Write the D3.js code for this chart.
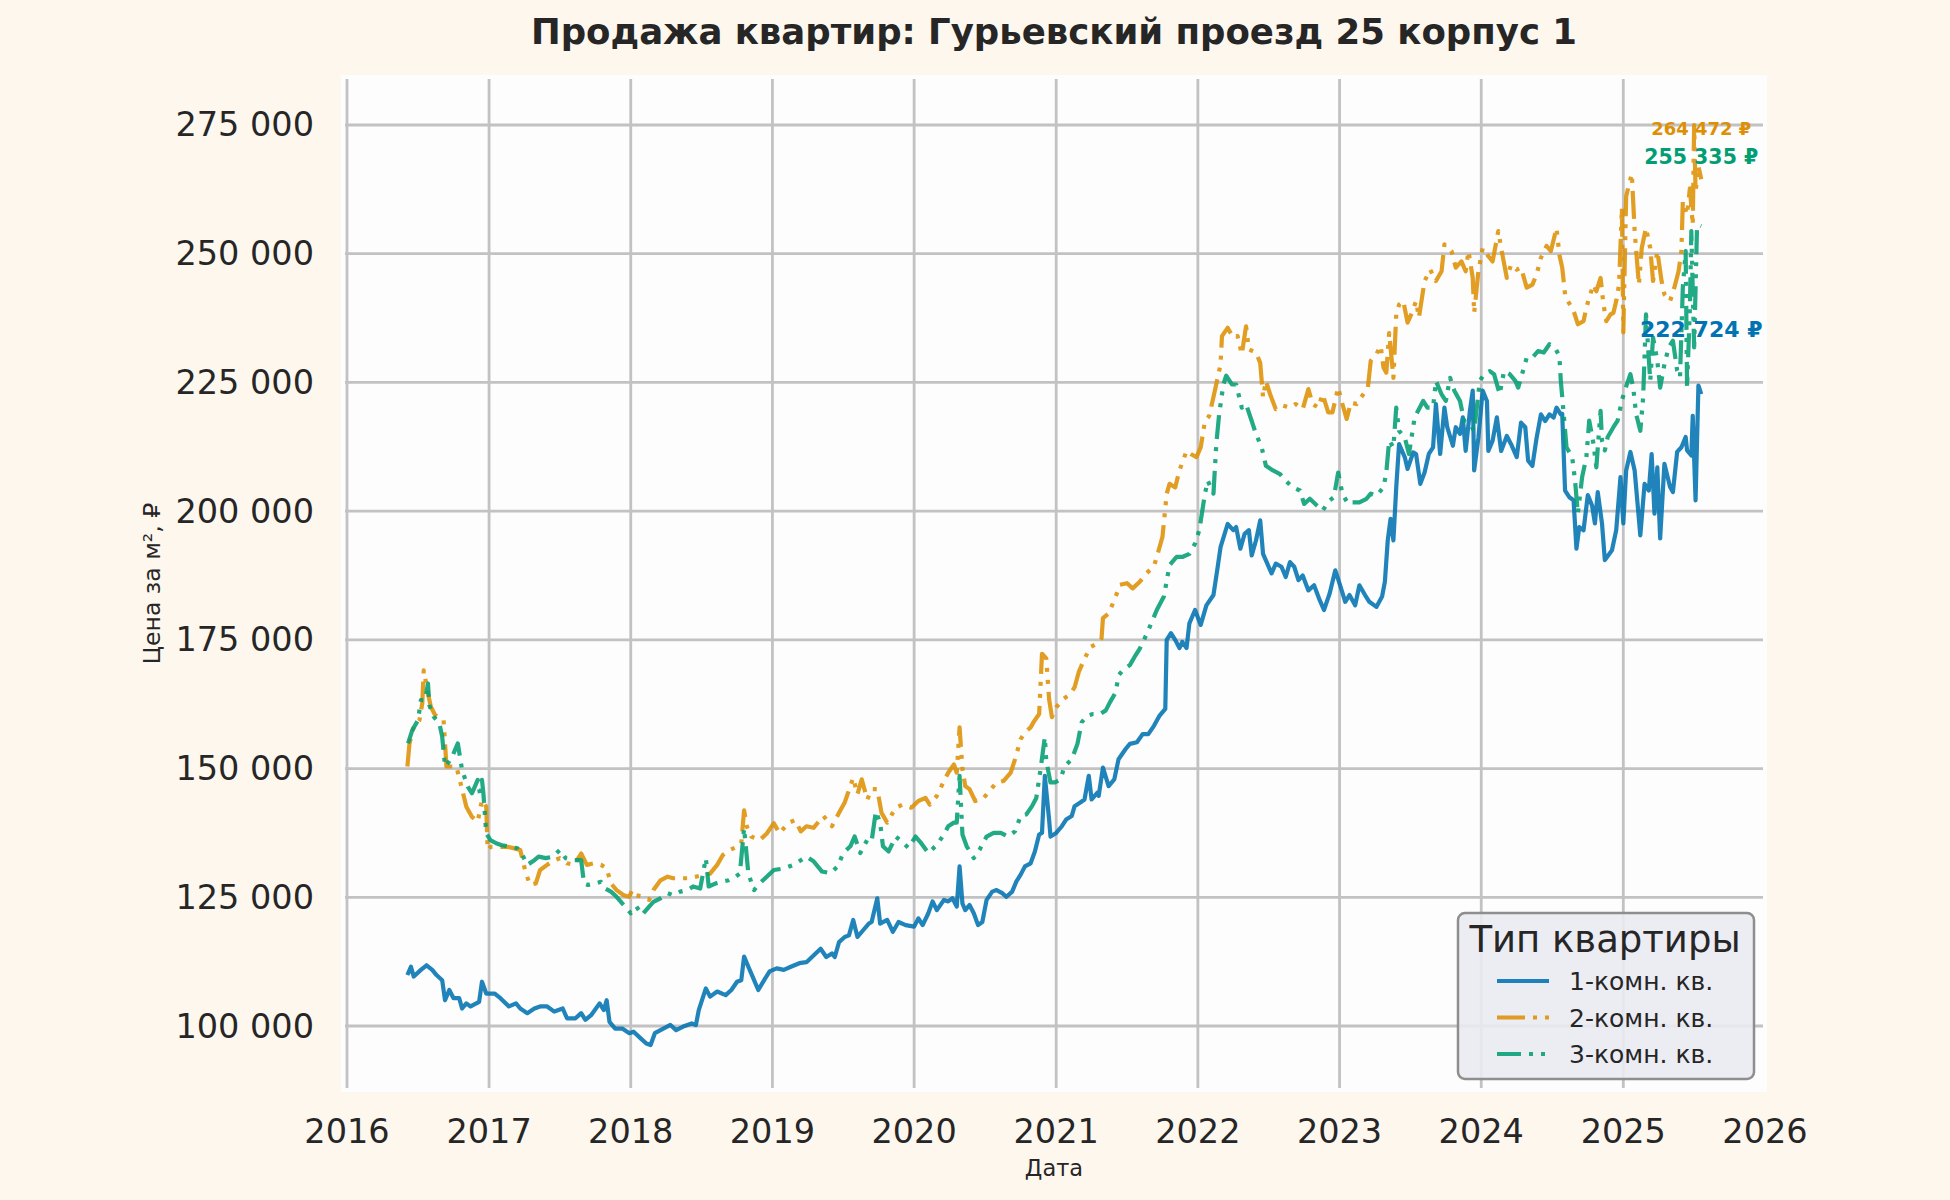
<!DOCTYPE html>
<html>
<head>
<meta charset="utf-8">
<script src="https://cdn.jsdelivr.net/npm/d3@7"></script>
<style>
  html, body { margin: 0; padding: 0; background: #fef7ee; }
  text { font-family: "DejaVu Sans", sans-serif; }
</style>
</head>
<body>
<div id="chart"></div>
<script>
// series: [decimal year, price in thousand rub per m2]
const room1 = [
  [2016.425,109.9],[2016.45,111.5],[2016.47,109.6],[2016.52,110.9],[2016.56,111.8],[2016.60,110.9],[2016.63,109.9],
  [2016.67,108.9],[2016.69,105.0],[2016.72,107.0],[2016.75,105.4],[2016.79,105.4],[2016.81,103.4],[2016.84,104.4],
  [2016.87,103.8],[2016.93,104.7],[2016.95,108.6],[2016.98,106.3],[2017.04,106.3],[2017.08,105.4],[2017.14,103.8],
  [2017.19,104.4],[2017.22,103.4],[2017.27,102.5],[2017.32,103.4],[2017.36,103.8],[2017.41,103.8],[2017.46,102.8],
  [2017.52,103.4],[2017.55,101.5],[2017.61,101.5],[2017.65,102.5],[2017.68,101.2],[2017.72,102.1],[2017.78,104.4],
  [2017.81,103.1],[2017.83,105.0],[2017.85,100.8],[2017.89,99.5],[2017.94,99.5],[2017.99,98.6],[2018.02,98.9],
  [2018.07,97.6],[2018.11,96.6],[2018.14,96.3],[2018.17,98.6],[2018.23,99.5],[2018.28,100.2],[2018.32,99.2],
  [2018.37,99.9],[2018.43,100.5],[2018.46,100.2],[2018.48,103.1],[2018.53,107.3],[2018.56,105.7],[2018.61,106.7],
  [2018.67,106.0],[2018.71,107.0],[2018.75,108.6],[2018.78,108.9],[2018.80,113.5],[2018.83,111.5],[2018.86,109.6],
  [2018.90,107.0],[2018.95,109.3],[2018.98,110.6],[2019.03,111.2],[2019.08,110.9],[2019.13,111.5],[2019.19,112.2],
  [2019.24,112.4],[2019.29,113.7],[2019.34,115.0],[2019.38,113.4],[2019.42,114.1],[2019.44,113.4],[2019.47,116.3],
  [2019.51,117.3],[2019.54,117.6],[2019.57,120.6],[2019.60,117.3],[2019.64,118.6],[2019.68,119.9],[2019.70,120.2],
  [2019.74,124.8],[2019.76,119.9],[2019.81,120.6],[2019.85,118.3],[2019.89,120.2],[2019.94,119.6],[2020.00,119.3],
  [2020.03,120.9],[2020.06,119.6],[2020.10,121.9],[2020.13,124.2],[2020.16,122.5],[2020.21,124.5],[2020.24,124.2],
  [2020.27,124.8],[2020.30,123.2],[2020.32,131.0],[2020.34,123.8],[2020.36,122.5],[2020.39,123.5],[2020.42,121.9],
  [2020.45,119.6],[2020.48,120.2],[2020.51,124.5],[2020.55,126.1],[2020.58,126.4],[2020.62,125.8],[2020.65,125.1],
  [2020.69,126.1],[2020.72,128.1],[2020.75,129.4],[2020.78,131.0],[2020.82,131.6],[2020.85,133.9],[2020.88,137.2],
  [2020.90,137.5],[2020.92,148.6],[2020.95,140.1],[2020.96,136.8],[2021.00,137.5],[2021.04,138.8],[2021.07,140.1],
  [2021.11,140.8],[2021.13,142.7],[2021.17,143.4],[2021.20,144.0],[2021.23,148.6],[2021.25,144.0],[2021.29,145.3],
  [2021.30,144.7],[2021.33,150.2],[2021.37,146.6],[2021.41,147.9],[2021.44,151.8],[2021.49,153.8],[2021.52,154.8],
  [2021.57,155.1],[2021.61,156.7],[2021.65,156.7],[2021.69,158.3],[2021.73,160.3],[2021.77,161.6],[2021.78,175.0],
  [2021.81,176.3],[2021.84,175.0],[2021.87,173.4],[2021.89,174.6],[2021.92,173.4],[2021.94,178.2],[2021.98,180.8],
  [2022.02,177.9],[2022.06,181.7],[2022.11,183.7],[2022.14,189.2],[2022.16,193.0],[2022.21,197.5],[2022.25,196.3],
  [2022.27,196.9],[2022.30,192.7],[2022.33,195.6],[2022.36,196.3],[2022.38,191.4],[2022.41,194.3],[2022.44,198.2],
  [2022.46,191.7],[2022.49,189.8],[2022.52,187.9],[2022.55,189.8],[2022.59,189.2],[2022.62,187.2],[2022.65,190.1],
  [2022.68,189.2],[2022.71,186.6],[2022.74,187.5],[2022.78,184.6],[2022.82,185.6],[2022.86,182.7],[2022.89,180.8],
  [2022.93,184.0],[2022.97,188.5],[2023.00,185.9],[2023.04,182.4],[2023.07,183.7],[2023.11,181.7],[2023.14,185.6],
  [2023.18,183.7],[2023.21,182.4],[2023.26,181.4],[2023.30,183.4],[2023.32,186.3],[2023.34,194.3],[2023.36,198.5],
  [2023.38,194.3],[2023.40,204.6],[2023.42,213.0],[2023.46,210.5],[2023.48,208.2],[2023.52,211.4],[2023.54,211.1],
  [2023.57,205.3],[2023.60,207.5],[2023.63,211.1],[2023.66,212.4],[2023.68,220.8],[2023.71,211.1],[2023.74,220.1],
  [2023.76,216.3],[2023.80,212.7],[2023.82,216.3],[2023.85,215.0],[2023.87,218.2],[2023.89,211.7],[2023.92,219.5],
  [2023.94,223.4],[2023.95,207.9],[2023.98,214.3],[2024.01,223.4],[2024.04,221.4],[2024.05,211.7],[2024.08,213.7],
  [2024.11,218.2],[2024.14,211.7],[2024.18,214.6],[2024.21,213.0],[2024.25,210.5],[2024.28,217.2],[2024.31,216.3],
  [2024.33,209.8],[2024.36,208.8],[2024.39,214.3],[2024.42,218.8],[2024.45,217.5],[2024.48,218.8],[2024.51,218.2],
  [2024.53,220.1],[2024.56,218.8],[2024.57,218.9],[2024.59,204.0],[2024.62,202.7],[2024.65,202.1],[2024.67,192.7],
  [2024.69,196.9],[2024.72,196.3],[2024.75,203.1],[2024.78,201.1],[2024.80,197.6],[2024.82,203.7],[2024.85,197.6],
  [2024.87,190.5],[2024.92,192.4],[2024.95,196.3],[2024.98,206.6],[2025.00,197.6],[2025.02,207.9],[2025.05,211.5],
  [2025.08,207.9],[2025.12,195.3],[2025.15,205.3],[2025.18,204.0],[2025.20,211.1],[2025.22,199.5],[2025.24,208.5],
  [2025.26,194.7],[2025.29,209.2],[2025.33,204.7],[2025.35,203.7],[2025.38,211.5],[2025.41,212.4],[2025.44,214.4],
  [2025.45,211.8],[2025.48,210.8],[2025.49,218.5],[2025.51,202.1],[2025.53,224.4],[2025.55,222.724]
];

const room2 = [
  [2016.425,150.4],[2016.44,154.9],[2016.47,158.1],[2016.51,159.4],[2016.53,162.7],[2016.54,169.1],[2016.57,164.6],
  [2016.59,162.0],[2016.62,160.4],[2016.68,159.4],[2016.70,150.4],[2016.73,150.4],[2016.77,150.4],[2016.80,147.1],
  [2016.84,142.6],[2016.88,140.6],[2016.92,139.7],[2016.95,143.9],[2016.98,142.6],[2016.99,134.2],[2017.01,134.8],
  [2017.07,134.8],[2017.13,134.8],[2017.18,134.5],[2017.22,134.2],[2017.26,129.6],[2017.29,127.4],[2017.33,127.7],
  [2017.36,130.3],[2017.41,131.3],[2017.46,132.2],[2017.50,132.6],[2017.55,131.6],[2017.60,131.3],[2017.65,133.5],
  [2017.69,131.3],[2017.74,131.6],[2017.79,131.3],[2017.83,130.6],[2017.86,127.7],[2017.90,126.4],[2017.95,125.4],
  [2017.99,125.1],[2018.01,126.4],[2018.04,125.4],[2018.09,125.1],[2018.13,124.5],[2018.16,126.4],[2018.21,128.3],
  [2018.26,129.0],[2018.30,128.7],[2018.35,128.7],[2018.40,128.7],[2018.46,129.0],[2018.51,129.3],[2018.56,129.6],
  [2018.61,131.3],[2018.65,133.2],[2018.70,134.2],[2018.75,134.8],[2018.78,135.5],[2018.80,141.9],[2018.82,138.7],
  [2018.85,136.8],[2018.91,136.1],[2018.96,137.4],[2019.01,139.4],[2019.05,137.4],[2019.11,139.4],[2019.16,140.0],
  [2019.20,137.8],[2019.24,138.8],[2019.29,138.5],[2019.36,140.8],[2019.42,138.8],[2019.47,141.4],[2019.51,143.4],
  [2019.57,148.2],[2019.60,145.0],[2019.63,147.9],[2019.67,144.0],[2019.70,146.0],[2019.74,146.0],[2019.77,141.4],
  [2019.81,139.5],[2019.87,142.4],[2019.92,143.0],[2019.98,142.4],[2020.03,143.7],[2020.08,144.3],[2020.11,143.0],
  [2020.16,144.7],[2020.21,147.6],[2020.24,149.2],[2020.28,150.8],[2020.30,149.2],[2020.32,158.0],[2020.34,149.9],
  [2020.36,146.6],[2020.39,146.0],[2020.43,143.7],[2020.48,144.0],[2020.52,145.3],[2020.58,147.3],[2020.63,147.6],
  [2020.68,149.2],[2020.71,151.8],[2020.75,155.7],[2020.78,157.0],[2020.82,158.0],[2020.84,159.0],[2020.88,160.6],
  [2020.90,172.3],[2020.93,171.4],[2020.95,163.5],[2020.97,160.0],[2021.00,161.9],[2021.05,163.5],[2021.10,164.5],
  [2021.13,165.8],[2021.16,168.8],[2021.19,170.7],[2021.24,173.6],[2021.29,174.3],[2021.32,175.3],[2021.33,179.2],
  [2021.37,180.1],[2021.42,183.4],[2021.45,185.7],[2021.50,186.0],[2021.54,185.0],[2021.59,186.3],[2021.64,188.0],
  [2021.69,189.3],[2021.71,191.1],[2021.75,195.0],[2021.78,203.4],[2021.80,205.3],[2021.84,204.6],[2021.87,207.9],
  [2021.92,211.7],[2021.95,211.1],[2021.99,210.5],[2022.02,212.4],[2022.05,217.5],[2022.08,218.5],[2022.12,223.4],
  [2022.16,228.5],[2022.17,234.0],[2022.21,235.6],[2022.25,233.7],[2022.28,234.0],[2022.31,230.5],[2022.34,235.9],
  [2022.36,231.4],[2022.41,230.8],[2022.44,228.8],[2022.46,222.1],[2022.48,225.3],[2022.51,222.7],[2022.55,219.8],
  [2022.60,220.5],[2022.65,220.1],[2022.69,220.8],[2022.74,219.8],[2022.78,223.7],[2022.81,220.8],[2022.85,220.1],
  [2022.88,222.7],[2022.92,219.2],[2022.95,219.2],[2022.99,224.0],[2023.02,220.8],[2023.05,217.9],[2023.08,221.1],
  [2023.12,220.8],[2023.16,222.4],[2023.20,224.0],[2023.22,229.2],[2023.26,230.5],[2023.29,232.1],[2023.31,227.9],
  [2023.33,226.9],[2023.35,234.6],[2023.38,225.9],[2023.40,238.2],[2023.42,240.1],[2023.45,240.8],[2023.48,236.6],
  [2023.51,238.5],[2023.54,240.8],[2023.56,237.6],[2023.60,244.7],[2023.64,246.9],[2023.68,244.7],[2023.72,246.6],
  [2023.74,251.8],[2023.79,250.5],[2023.82,247.3],[2023.86,248.5],[2023.89,246.6],[2023.91,250.5],[2023.94,245.3],
  [2023.95,238.5],[2023.98,246.6],[2024.01,251.1],[2024.05,249.5],[2024.08,248.5],[2024.12,254.4],[2024.14,251.1],
  [2024.18,245.3],[2024.21,247.9],[2024.25,246.9],[2024.28,247.3],[2024.32,243.4],[2024.36,244.0],[2024.39,246.0],
  [2024.42,249.2],[2024.46,251.5],[2024.49,250.5],[2024.53,255.0],[2024.55,249.8],[2024.57,247.3],[2024.59,242.1],
  [2024.61,240.8],[2024.65,238.9],[2024.68,236.3],[2024.72,236.9],[2024.74,239.5],[2024.76,241.5],[2024.79,244.0],
  [2024.81,242.7],[2024.84,245.3],[2024.86,240.2],[2024.88,236.9],[2024.91,238.2],[2024.93,238.5],[2024.95,240.8],
  [2024.97,244.0],[2024.99,258.9],[2025.00,234.7],[2025.02,261.1],[2025.04,263.4],[2025.06,265.5],[2025.08,254.4],
  [2025.11,244.0],[2025.13,251.1],[2025.16,255.0],[2025.19,251.1],[2025.21,244.7],[2025.24,250.5],[2025.27,244.7],
  [2025.29,242.1],[2025.33,240.8],[2025.36,243.4],[2025.39,246.6],[2025.41,250.5],[2025.42,260.2],[2025.45,257.6],
  [2025.47,262.7],[2025.49,255.6],[2025.50,275.0],[2025.51,262.0],[2025.53,267.0],[2025.55,264.472]
];

const room3 = [
  [2016.43,154.9],[2016.46,157.5],[2016.50,159.4],[2016.52,163.3],[2016.55,163.3],[2016.57,166.5],[2016.58,162.3],
  [2016.61,160.1],[2016.65,158.8],[2016.67,156.2],[2016.69,150.4],[2016.71,151.0],[2016.74,152.3],[2016.78,154.9],
  [2016.81,149.7],[2016.85,146.5],[2016.88,145.2],[2016.92,147.8],[2016.94,144.5],[2016.95,147.8],[2016.96,145.2],
  [2016.98,137.4],[2017.01,136.1],[2017.05,135.5],[2017.09,135.1],[2017.15,134.8],[2017.20,134.5],[2017.23,133.5],
  [2017.27,131.3],[2017.32,132.2],[2017.35,132.9],[2017.40,132.6],[2017.45,132.9],[2017.50,134.2],[2017.54,132.6],
  [2017.59,132.2],[2017.65,132.2],[2017.67,127.7],[2017.70,127.4],[2017.75,127.7],[2017.79,128.0],[2017.82,126.7],
  [2017.86,126.1],[2017.90,125.1],[2017.95,123.5],[2018.00,121.9],[2018.04,123.2],[2018.08,121.6],[2018.13,123.2],
  [2018.16,124.1],[2018.21,124.8],[2018.26,125.8],[2018.30,125.4],[2018.35,126.1],[2018.40,126.4],[2018.44,127.1],
  [2018.49,126.7],[2018.53,132.6],[2018.55,127.1],[2018.60,127.7],[2018.64,128.0],[2018.69,128.3],[2018.74,129.0],
  [2018.77,129.6],[2018.80,138.4],[2018.83,129.6],[2018.87,126.4],[2018.91,127.7],[2018.96,129.0],[2019.01,130.3],
  [2019.08,130.6],[2019.15,131.3],[2019.24,132.9],[2019.29,132.0],[2019.35,130.0],[2019.41,129.7],[2019.46,131.0],
  [2019.50,133.6],[2019.55,134.9],[2019.58,136.8],[2019.62,133.6],[2019.67,136.2],[2019.70,135.9],[2019.73,141.7],
  [2019.76,139.5],[2019.78,134.9],[2019.82,133.9],[2019.87,136.8],[2019.91,135.9],[2019.96,134.6],[2020.01,136.8],
  [2020.05,135.5],[2020.10,133.6],[2020.16,135.2],[2020.21,137.2],[2020.24,138.8],[2020.28,139.5],[2020.30,139.5],
  [2020.32,148.6],[2020.34,137.2],[2020.37,134.9],[2020.42,132.6],[2020.46,134.2],[2020.51,136.8],[2020.56,137.5],
  [2020.61,137.5],[2020.66,136.8],[2020.71,137.8],[2020.75,140.8],[2020.79,141.1],[2020.83,142.7],[2020.86,144.3],
  [2020.89,149.9],[2020.92,156.1],[2020.93,151.5],[2020.96,147.3],[2020.99,147.3],[2021.03,147.9],[2021.06,150.5],
  [2021.11,151.8],[2021.15,154.8],[2021.18,159.0],[2021.22,160.3],[2021.26,160.6],[2021.31,160.6],[2021.35,161.3],
  [2021.38,162.9],[2021.42,164.8],[2021.44,168.1],[2021.47,169.1],[2021.52,170.1],[2021.56,172.0],[2021.59,173.3],
  [2021.64,176.2],[2021.71,180.8],[2021.76,183.4],[2021.80,189.5],[2021.85,191.1],[2021.89,191.1],[2021.94,191.7],
  [2021.98,193.7],[2022.01,196.3],[2022.05,203.4],[2022.07,205.9],[2022.11,203.4],[2022.13,213.0],[2022.15,218.8],
  [2022.18,224.6],[2022.20,226.3],[2022.24,224.6],[2022.27,224.6],[2022.31,220.1],[2022.34,220.8],[2022.38,217.5],
  [2022.41,215.0],[2022.45,212.4],[2022.48,208.8],[2022.53,207.9],[2022.58,207.2],[2022.62,205.9],[2022.67,204.6],
  [2022.72,204.0],[2022.75,201.4],[2022.79,202.4],[2022.84,201.1],[2022.88,200.1],[2022.93,202.1],[2022.96,202.7],
  [2022.99,207.5],[2023.02,203.4],[2023.06,201.4],[2023.09,201.7],[2023.14,201.7],[2023.19,202.4],[2023.22,203.4],
  [2023.26,203.0],[2023.31,204.6],[2023.33,207.5],[2023.35,213.7],[2023.38,212.4],[2023.40,220.1],[2023.42,215.6],
  [2023.46,214.3],[2023.49,211.1],[2023.53,218.2],[2023.56,219.8],[2023.59,221.4],[2023.62,220.1],[2023.66,220.1],
  [2023.68,225.3],[2023.72,222.7],[2023.75,221.4],[2023.78,225.9],[2023.81,223.4],[2023.85,221.4],[2023.88,217.5],
  [2023.92,216.9],[2023.95,215.6],[2023.99,225.3],[2024.02,226.6],[2024.06,227.2],[2024.09,226.6],[2024.13,222.7],
  [2024.16,227.2],[2024.20,226.6],[2024.24,225.3],[2024.26,224.0],[2024.28,225.9],[2024.32,229.8],[2024.36,229.8],
  [2024.40,231.1],[2024.44,230.8],[2024.48,232.4],[2024.52,231.7],[2024.55,230.1],[2024.56,225.3],[2024.58,219.0],
  [2024.60,212.4],[2024.64,210.5],[2024.66,206.0],[2024.68,199.5],[2024.71,206.6],[2024.74,210.5],[2024.76,217.6],
  [2024.79,213.1],[2024.81,208.5],[2024.84,219.5],[2024.85,213.7],[2024.87,211.8],[2024.89,214.4],[2024.93,216.3],
  [2024.96,217.6],[2024.99,221.5],[2025.01,223.4],[2025.05,226.6],[2025.07,224.0],[2025.09,218.9],[2025.12,215.6],
  [2025.14,222.1],[2025.16,238.2],[2025.19,225.3],[2025.21,233.7],[2025.24,229.2],[2025.26,224.0],[2025.29,228.5],
  [2025.32,231.8],[2025.35,233.1],[2025.38,227.3],[2025.40,226.0],[2025.42,243.4],[2025.44,250.5],[2025.45,224.0],
  [2025.47,239.5],[2025.48,254.4],[2025.50,231.8],[2025.52,255.0],[2025.53,255.6],[2025.55,255.335]
];

const seriesNames = ["1-комн. кв.", "2-комн. кв.", "3-комн. кв."];
const seriesColors = ["#0173b2", "#de8f05", "#029e73"];
const seriesDash = [null, "28,8,4,8,4,8", "24,8,4,8,4,8"];
const yTicks = [100, 125, 150, 175, 200, 225, 250, 275];
const xTickYears = [2016, 2017, 2018, 2019, 2020, 2021, 2022, 2023, 2024, 2025, 2026];
const lastLabelDy = [-57, -44, -62];
const lastLabelSize = [22, 18, 20.5];

const W = 1950, H = 1200;
const box = {left: 341, right: 1767, top: 75, bottom: 1092};
const grid = {left: 345, right: 1763, top: 79, bottom: 1088};

const ru = d3.formatLocale({decimal: ",", thousands: "\u00a0", grouping: [3], currency: ["", "\u00a0₽"]});
const fmtNum = ru.format(",.0f");

function toDate(y) {
  const yr = Math.floor(y);
  const a = new Date(yr, 0, 1), b = new Date(yr + 1, 0, 1);
  return new Date(+a + (y - yr) * (b - a));
}

const x = d3.scaleTime()
  .domain([new Date(2016, 0, 1), new Date(2026, 0, 1)])
  .range([347, 1765]);
const y = d3.scaleLinear()
  .domain([87.96, 283.93])
  .range([grid.bottom, grid.top]);

const svg = d3.select("#chart").append("svg")
  .attr("width", W).attr("height", H)
  .style("display", "block")
  .style("background", "#fef7ee");

svg.append("rect")
  .attr("x", box.left).attr("y", box.top)
  .attr("width", box.right - box.left).attr("height", box.bottom - box.top)
  .attr("fill", "#fdfdfd");

// grid
svg.append("g").selectAll("line").data(yTicks).join("line")
  .attr("x1", grid.left).attr("x2", grid.right)
  .attr("y1", d => y(d)).attr("y2", d => y(d))
  .attr("stroke", "#c2c2c2").attr("stroke-width", 2.8);
svg.append("g").selectAll("line").data(xTickYears.filter(d => d < 2026)).join("line")
  .attr("x1", d => x(new Date(d, 0, 1))).attr("x2", d => x(new Date(d, 0, 1)))
  .attr("y1", grid.top).attr("y2", grid.bottom)
  .attr("stroke", "#c2c2c2").attr("stroke-width", 2.8);

// tick labels
svg.append("g").selectAll("text").data(yTicks).join("text")
  .attr("x", 314).attr("y", d => y(d))
  .attr("text-anchor", "end").attr("dominant-baseline", "central")
  .attr("font-size", 33.5).attr("fill", "#262626")
  .text(d => fmtNum(d * 1000));
svg.append("g").selectAll("text").data(xTickYears).join("text")
  .attr("x", d => x(new Date(d, 0, 1))).attr("y", 1143)
  .attr("text-anchor", "middle")
  .attr("font-size", 33.5).attr("fill", "#262626")
  .text(d => d);

// axis labels and title
svg.append("text")
  .attr("transform", "translate(160," + ((box.top + box.bottom) / 2) + ") rotate(-90)")
  .attr("text-anchor", "middle").attr("font-size", 23.5).attr("fill", "#262626")
  .text("Цена за м², ₽");
svg.append("text")
  .attr("x", (box.left + box.right) / 2).attr("y", 1176)
  .attr("text-anchor", "middle").attr("font-size", 22.5).attr("fill", "#262626")
  .text("Дата");
svg.append("text")
  .attr("x", (box.left + box.right) / 2).attr("y", 44)
  .attr("text-anchor", "middle").attr("font-size", 35.5).attr("font-weight", "bold").attr("fill", "#262626")
  .text("Продажа квартир: Гурьевский проезд 25 корпус 1");

// lines
const line = d3.line()
  .x(d => x(toDate(d[0])))
  .y(d => y(d[1]));

const allSeries = [room1, room2, room3];
svg.append("g").selectAll("path").data(allSeries).join("path")
  .attr("d", d => line(d))
  .attr("fill", "none")
  .attr("stroke", (d, i) => seriesColors[i])
  .attr("stroke-opacity", 0.88)
  .attr("stroke-width", 4.2)
  .attr("stroke-linejoin", "round")
  .attr("stroke-dasharray", (d, i) => seriesDash[i]);

// last value labels
svg.append("g").selectAll("text").data(allSeries).join("text")
  .attr("x", d => x(toDate(d[d.length - 1][0])))
  .attr("y", (d, i) => y(d[d.length - 1][1]) + lastLabelDy[i])
  .attr("text-anchor", "middle")
  .attr("font-size", (d, i) => lastLabelSize[i])
  .attr("font-weight", "bold")
  .attr("fill", (d, i) => seriesColors[i])
  .text(d => fmtNum(d[d.length - 1][1] * 1000) + " ₽");

// legend
const lg = svg.append("g");
lg.append("rect")
  .attr("x", 1458).attr("y", 913).attr("width", 296).attr("height", 166)
  .attr("rx", 7)
  .attr("fill", "#eaeaf2").attr("fill-opacity", 0.9)
  .attr("stroke", "#8e8e8e").attr("stroke-width", 2.5);
lg.append("text")
  .attr("x", 1605).attr("y", 952)
  .attr("text-anchor", "middle").attr("font-size", 37).attr("fill", "#262626")
  .text("Тип квартиры");
const items = lg.selectAll("g.item").data(seriesNames).join("g")
  .attr("class", "item")
  .attr("transform", (d, i) => "translate(0," + (981 + i * 36.5) + ")");
items.append("line")
  .attr("x1", 1497).attr("x2", 1549)
  .attr("stroke", (d, i) => seriesColors[i])
  .attr("stroke-opacity", 0.88)
  .attr("stroke-width", 4.2)
  .attr("stroke-dasharray", (d, i) => seriesDash[i]);
items.append("text")
  .attr("x", 1569).attr("y", 9)
  .attr("font-size", 25).attr("fill", "#262626")
  .text(d => d);
</script>
</body>
</html>
